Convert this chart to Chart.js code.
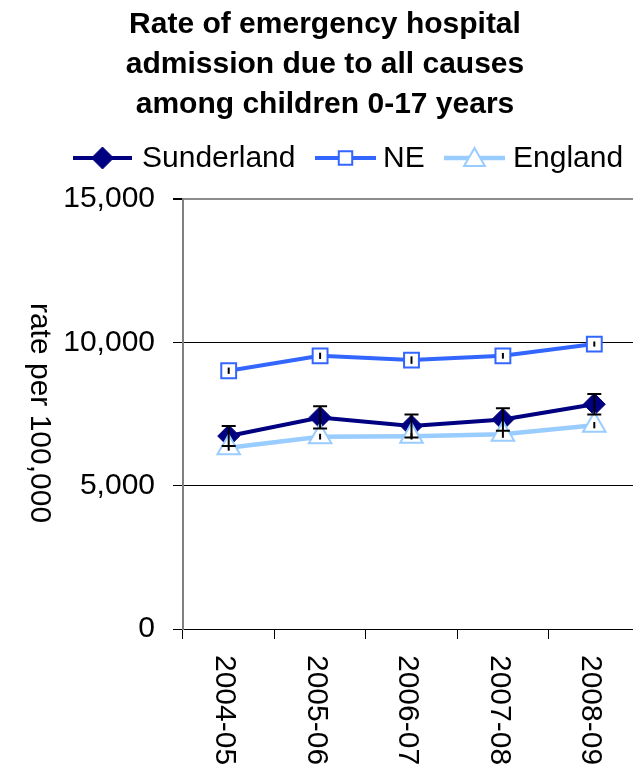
<!DOCTYPE html>
<html>
<head>
<meta charset="utf-8">
<script src="https://cdn.jsdelivr.net/npm/chart.js@4.4.0/dist/chart.umd.min.js"></script>
<style>
  html, body { margin: 0; padding: 0; background: #fff; overflow: hidden; }
</style>
</head>
<body>
<canvas id="chart" width="655" height="771"></canvas>
<script>
const titleLines = ['Rate of emergency hospital', 'admission due to all causes', 'among children 0-17 years']
const yAxisTitle = 'rate per 100,000'
const categories = ['2004-05', '2005-06', '2006-07', '2007-08', '2008-09']
const yTicks = [0, 5000, 10000, 15000]

const sunderland = [6730, 7380, 7080, 7310, 7840]
const sunderlandErr = [350, 390, 400, 390, 360]
const ne = [9010, 9530, 9380, 9530, 9940]
const neErr = [110, 110, 130, 100, 90]
const england = [6320, 6710, 6720, 6790, 7110]
const englandErr = [100, 100, 110, 120, 110]

const FONT = '"Liberation Sans", Arial, sans-serif'

// small marker painter, used for the legend only
function drawMarker(ctx, style, x, y, r, fill, stroke, lw){
  ctx.save()
  ctx.beginPath()
  if (style === 'rectRot'){
    ctx.moveTo(x - r, y); ctx.lineTo(x, y - r); ctx.lineTo(x + r, y); ctx.lineTo(x, y + r)
  } else if (style === 'rect'){
    const s = r * Math.SQRT1_2
    ctx.rect(x - s, y - s, 2 * s, 2 * s)
  } else {
    ctx.moveTo(x, y - r)
    ctx.lineTo(x + Math.sin(2 * Math.PI / 3) * r, y + r / 2)
    ctx.lineTo(x - Math.sin(2 * Math.PI / 3) * r, y + r / 2)
  }
  ctx.closePath()
  ctx.fillStyle = fill
  ctx.fill()
  ctx.lineWidth = lw
  ctx.strokeStyle = stroke
  ctx.stroke()
  ctx.restore()
}

const decorations = {
  id: 'decorations',
  afterDatasetsDraw(chart){
    const ctx = chart.ctx
    const y = chart.scales.y
    // error bars on top of the series
    chart.data.datasets.forEach((ds, i) => {
      const meta = chart.getDatasetMeta(i)
      ds.errors.forEach((e, j) => {
        const px = meta.data[j].x
        const v = ds.data[j]
        const top = y.getPixelForValue(v + e)
        const bot = y.getPixelForValue(v - e)
        ctx.save()
        ctx.strokeStyle = '#000'
        ctx.lineWidth = 2
        ctx.beginPath()
        ctx.moveTo(px, top); ctx.lineTo(px, bot)
        if (ds.errorCap){
          ctx.moveTo(px - ds.errorCap, top); ctx.lineTo(px + ds.errorCap, top)
          ctx.moveTo(px - ds.errorCap, bot); ctx.lineTo(px + ds.errorCap, bot)
        }
        ctx.stroke()
        ctx.restore()
      })
    })
  },
  afterDraw(chart){
    const ctx = chart.ctx
    const x = chart.scales.x
    ctx.save()
    ctx.fillStyle = '#000'

    // title
    ctx.font = 'bold 30px ' + FONT
    ctx.textAlign = 'center'
    ctx.textBaseline = 'alphabetic'
    titleLines.forEach((t, i) => ctx.fillText(t, 325, 33 + i * 40))

    // legend
    const items = [
      { ds: chart.data.datasets[0], x0: 73, x1: 132, tx: 142 },
      { ds: chart.data.datasets[1], x0: 315, x1: 376, tx: 383 },
      { ds: chart.data.datasets[2], x0: 444, x1: 505, tx: 513 },
    ]
    const ly = 158
    items.forEach(it => {
      const ds = it.ds
      ctx.strokeStyle = ds.borderColor
      ctx.lineWidth = ds.borderWidth
      ctx.beginPath()
      ctx.moveTo(it.x0, ly); ctx.lineTo(it.x1, ly)
      ctx.stroke()
      drawMarker(ctx, ds.pointStyle, (it.x0 + it.x1) / 2, ly + (ds.pointStyle === 'triangle' ? 2 : 0),
        ds.legendRadius, ds.pointBackgroundColor, ds.pointBorderColor, ds.pointBorderWidth)
      ctx.fillStyle = '#000'
      ctx.font = '30px ' + FONT
      ctx.textAlign = 'left'
      ctx.textBaseline = 'middle'
      ctx.fillText(ds.label, it.tx, ly + 1)
    })

    // y axis title, reading top to bottom
    ctx.save()
    ctx.translate(39, 413)
    ctx.rotate(Math.PI / 2)
    ctx.font = '30px ' + FONT
    ctx.textAlign = 'center'
    ctx.textBaseline = 'middle'
    ctx.fillText(yAxisTitle, 0, 0)
    ctx.restore()

    // x tick labels, reading top to bottom
    categories.forEach((c, i) => {
      ctx.save()
      ctx.translate(x.getPixelForTick(i) - 4, 655)
      ctx.rotate(Math.PI / 2)
      ctx.font = '30px ' + FONT
      ctx.textAlign = 'left'
      ctx.textBaseline = 'middle'
      ctx.fillText(c, 0, 0)
      ctx.restore()
    })
    ctx.restore()
  }
}

const chart = new Chart(document.getElementById('chart'), {
  type: 'line',
  data: {
    labels: categories,
    datasets: [
      {
        label: 'Sunderland', data: sunderland, errors: sunderlandErr, errorCap: 7,
        borderColor: '#000080', borderWidth: 4,
        pointStyle: 'rectRot', pointRadius: 11, legendRadius: 11,
        pointBackgroundColor: '#000080', pointBorderColor: '#000080', pointBorderWidth: 1,
        order: 2,
      },
      {
        label: 'NE', data: ne, errors: neErr, errorCap: 0,
        borderColor: '#3366FF', borderWidth: 4,
        pointStyle: 'rect', pointRadius: 10.5, legendRadius: 9.5,
        pointBackgroundColor: '#fff', pointBorderColor: '#3366FF', pointBorderWidth: 2,
        order: 1,
      },
      {
        label: 'England', data: england, errors: englandErr, errorCap: 0,
        borderColor: '#99CCFF', borderWidth: 4.5,
        pointStyle: 'triangle', pointRadius: 13, legendRadius: 12,
        pointBackgroundColor: '#fff', pointBorderColor: '#99CCFF', pointBorderWidth: 2,
        order: 0,
      },
    ],
  },
  options: {
    responsive: false,
    devicePixelRatio: 1,
    animation: false,
    layout: { padding: { top: 199, left: 0, right: 2, bottom: 0 } },
    plugins: { legend: { display: false }, title: { display: false }, tooltip: { enabled: false } },
    elements: { line: { tension: 0 } },
    scales: {
      x: {
        offset: true,
        grid: { offset: true, drawOnChartArea: false, drawTicks: true, tickLength: 10, color: '#000', tickColor: '#000' },
        border: { color: '#000', width: 1 },
        ticks: { display: false },
        afterFit: s => { s.height = 142 },
      },
      y: {
        min: 0, max: 15000,
        afterBuildTicks: s => { s.ticks = yTicks.map(v => ({ value: v })) },
        grid: {
          color: c => c.tick && c.tick.value === 15000 ? '#8c8c8c' : '#000',
          lineWidth: c => c.tick && c.tick.value === 15000 ? 2 : 1,
          tickColor: '#000', tickLength: 10,
        },
        border: { color: '#808080', width: 2 },
        ticks: {
          color: '#000', padding: 18,
          font: { family: FONT, size: 30 },
          callback: v => v.toLocaleString('en-GB'),
        },
        afterFit: s => { s.width = 183 },
      },
    },
  },
  plugins: [decorations],
})
</script>
</body>
</html>
